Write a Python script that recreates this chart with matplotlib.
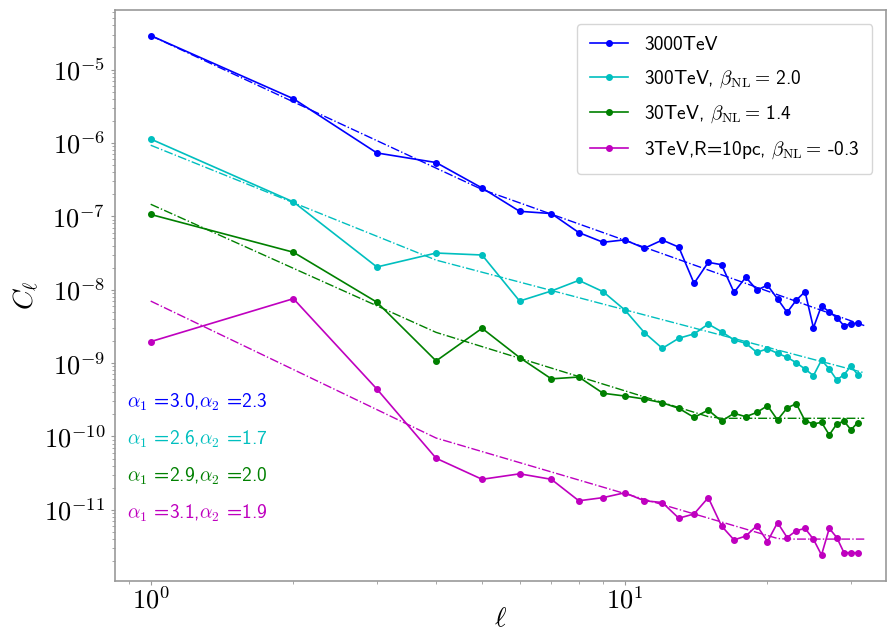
import numpy as np
import matplotlib
matplotlib.use("Agg")
import matplotlib.pyplot as plt
from matplotlib.ticker import FuncFormatter, NullFormatter

plt.rcParams['mathtext.fontset'] = 'cm'
plt.rcParams['font.family'] = ['cmss10', 'DejaVu Sans']
plt.rcParams['axes.unicode_minus'] = False

# multipoles
ell = np.arange(1, 32)
ell_fit = np.arange(1, 33)

# angular power spectra
cl_3000 = [2.9e-5, 4.0e-6, 7.3e-7, 5.4e-7, 2.43e-7, 1.17e-7, 1.09e-7, 6.0e-8, 4.43e-8, 4.78e-8,
           3.67e-8, 4.75e-8, 3.8e-8, 1.22e-8, 2.36e-8, 2.19e-8, 9.2e-9, 1.48e-8, 9.9e-9, 1.15e-8,
           7.5e-9, 4.9e-9, 7.2e-9, 9.4e-9, 3.03e-9, 6.05e-9, 4.97e-9, 4.16e-9, 3.23e-9, 3.44e-9,
           3.52e-9]
cl_300 = [1.13e-6, 1.57e-7, 2.04e-8, 3.16e-8, 2.97e-8, 7.0e-9, 9.6e-9, 1.34e-8, 9.4e-9, 5.3e-9,
          2.6e-9, 1.59e-9, 2.18e-9, 2.5e-9, 3.4e-9, 2.68e-9, 2.07e-9, 1.86e-9, 1.4e-9, 1.57e-9,
          1.36e-9, 1.2e-9, 1.01e-9, 8.3e-10, 6.75e-10, 1.1e-9, 8.3e-10, 5.9e-10, 6.95e-10, 9.1e-10,
          6.95e-10]
cl_30 = [1.06e-7, 3.24e-8, 6.76e-9, 1.07e-9, 2.98e-9, 1.19e-9, 6.1e-10, 6.46e-10, 3.88e-10, 3.56e-10,
         3.24e-10, 2.88e-10, 2.42e-10, 1.82e-10, 2.29e-10, 1.62e-10, 2.07e-10, 1.86e-10, 2.13e-10, 2.63e-10,
         1.68e-10, 2.45e-10, 2.8e-10, 1.64e-10, 1.48e-10, 1.56e-10, 1.05e-10, 1.48e-10, 1.62e-10, 1.23e-10,
         1.55e-10]
cl_3 = [1.96e-9, 7.55e-9, 4.43e-10, 5.05e-11, 2.61e-11, 3.1e-11, 2.61e-11, 1.33e-11, 1.47e-11, 1.71e-11,
        1.33e-11, 1.26e-11, 7.7e-12, 8.8e-12, 1.47e-11, 6.03e-12, 3.9e-12, 4.4e-12, 6.1e-12, 3.7e-12,
        6.7e-12, 4.2e-12, 5.2e-12, 5.6e-12, 3.98e-12, 2.43e-12, 5.6e-12, 4.2e-12, 2.61e-12, 2.61e-12,
        2.61e-12]

labels = ['3000TeV',
          r'300TeV, $\beta_{\rm NL}=\,$2.0',
          r'30TeV, $\beta_{\rm NL}=\,$1.4',
          r'3TeV,R=10pc, $\beta_{\rm NL}=\,$-0.3']
colors = ['b', 'c', 'g', 'm']

# broken power-law fits: amplitude at ell=1, slopes, break multipole, noise floor
fit_amp = [2.9e-5, 9.3e-7, 1.46e-7, 7.0e-9]
alpha1 = [3.0, 2.6, 2.9, 3.1]
alpha2 = [2.3, 1.7, 2.0, 1.9]
ell_break = [5, 4, 4, 4]
fit_floor = [0.0, 0.0, 1.77e-10, 4.0e-12]


def broken_power_law(l, amp, a1, a2, lb, floor):
    l = np.asarray(l, dtype=float)
    low = amp * l ** (-a1)
    high = amp * lb ** (-a1) * (l / lb) ** (-a2)
    return np.maximum(np.where(l <= lb, low, high), floor)


fig = plt.figure(figsize=(8.93, 6.38), dpi=100)
ax = fig.add_axes([115 / 893, 57 / 638, 771 / 893, 571 / 638])

series = [cl_3000, cl_300, cl_30, cl_3]
for cl, lab, col, A, a1, a2, lb, fl in zip(series, labels, colors, fit_amp,
                                           alpha1, alpha2, ell_break, fit_floor):
    ax.plot(ell, cl, '-o', color=col, lw=1.2, ms=4, label=lab)
    ax.plot(ell_fit, broken_power_law(ell_fit, A, a1, a2, lb, fl), '-.', color=col, lw=1.0)

ax.set_xscale('log')
ax.set_yscale('log')
ax.set_xlim(10 ** -0.0753, 10 ** 1.551)
ax.set_ylim(10 ** -11.969, 10 ** -4.189)

fmt = FuncFormatter(lambda v, p: r'$\mathrm{10^{%d}}$' % int(round(np.log10(v))))
for axis in (ax.xaxis, ax.yaxis):
    axis.set_major_formatter(fmt)
    axis.set_minor_formatter(NullFormatter())

ax.tick_params(which='major', length=3, width=0.8, color='#999999', labelsize=19, pad=4)
ax.tick_params(axis='x', which='major', pad=1)
ax.tick_params(which='minor', length=2, width=0.6, color='#999999')
for sp in ax.spines.values():
    sp.set_color('#999999')
    sp.set_linewidth(1.2)

ax.set_xlabel(r'$\ell$', fontsize=20, labelpad=-5)
ax.set_ylabel(r'$C_\ell$', fontsize=20, labelpad=2)

ax.legend(loc='upper right', fontsize=14, labelspacing=0.72, borderpad=0.65,
          borderaxespad=0.7)

# fitted slopes
slope_y = [0.3135, 0.2487, 0.1839, 0.119]
for col, a1, a2, yy in zip(colors, alpha1, alpha2, slope_y):
    ax.text(0.0156, yy, r'$\alpha_1$ =%.1f,$\alpha_2$ =%.1f' % (a1, a2), color=col,
            fontsize=14, transform=ax.transAxes, ha='left', va='center')

fig.savefig('out.png', dpi=100)
